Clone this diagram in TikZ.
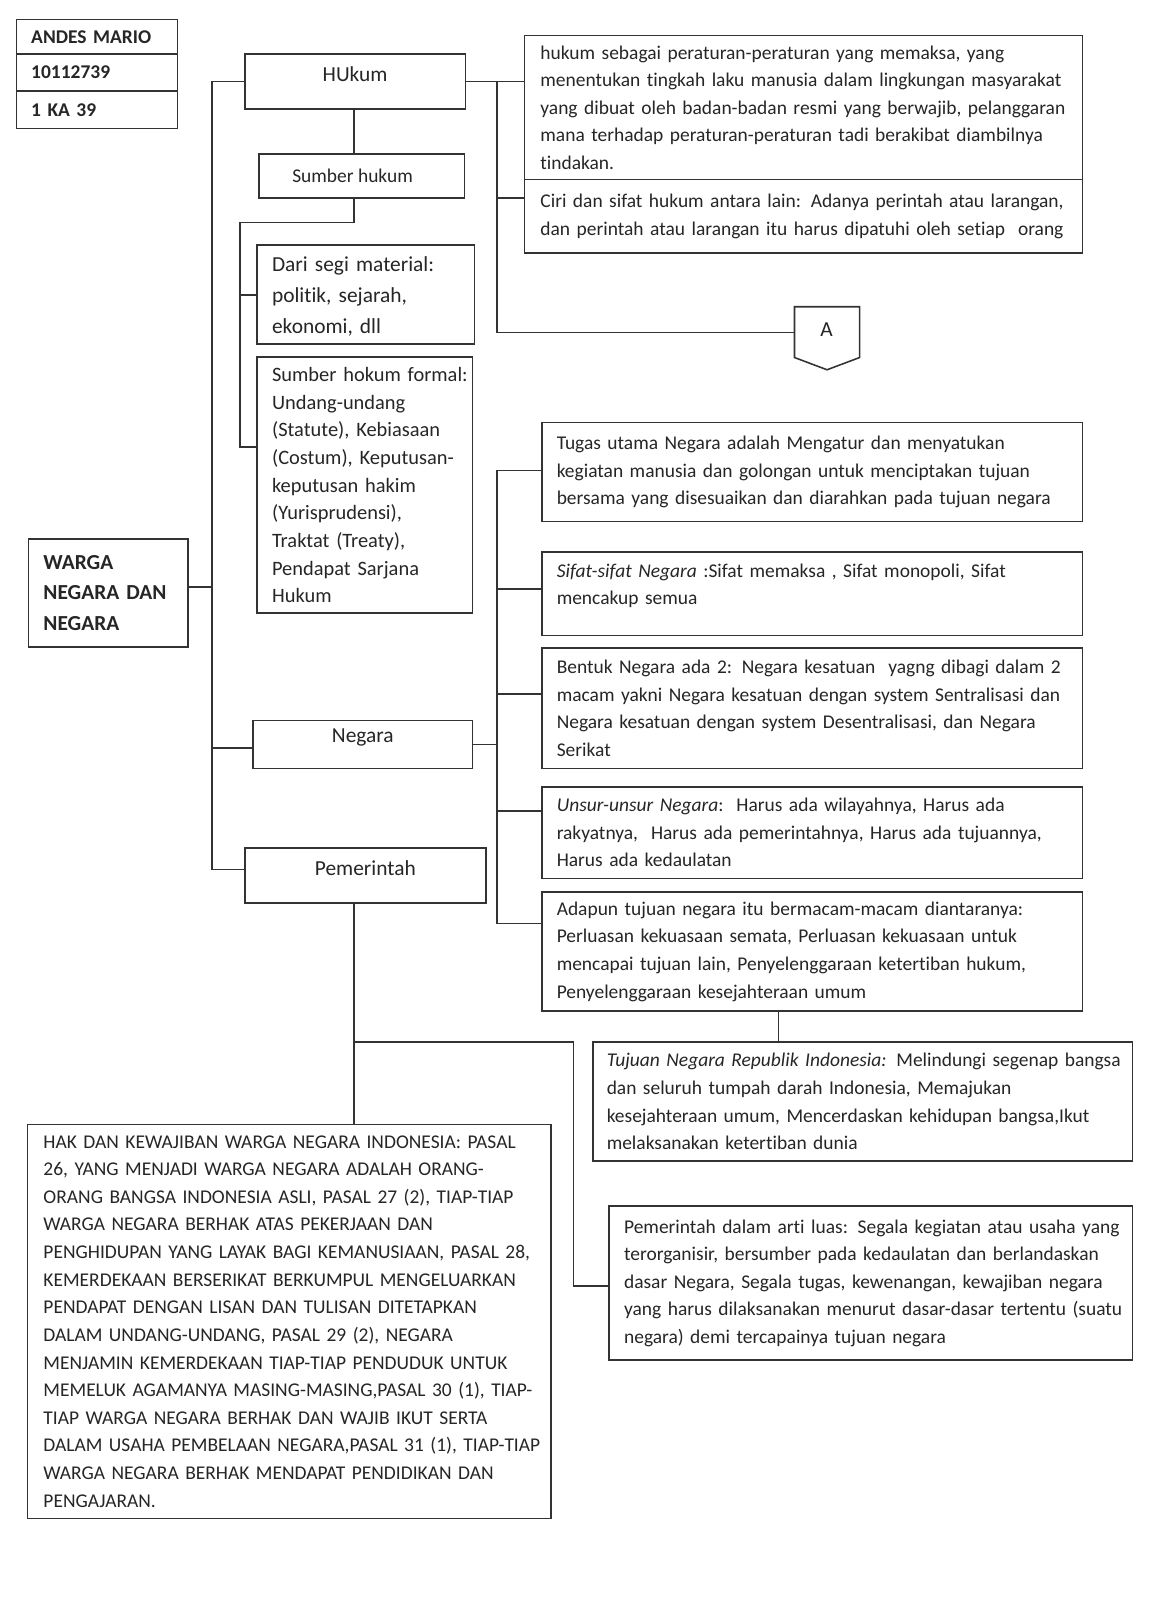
\documentclass[tikz,border=0pt]{standalone}
\usepackage{fontspec}
\setmainfont{Carlito}[Ligatures=NoCommon]
\usetikzlibrary{positioning,fit,calc}

\tikzset{
  kotak/.style={shape=rectangle, draw=black!80, line width=0.8pt, inner sep=0pt},
  isi/.style={anchor=west, align=left, inner sep=0pt, text width=330pt, text=black!85,
    font=\fontsize{10}{14.2}\selectfont},
  judul/.style={text=black!85, font=\fontsize{11}{13}\selectfont},
  garis/.style={draw=black!80, line width=0.8pt},
}

\begin{document}
\begin{tikzpicture}[x=0.5245pt, y=-0.5245pt]
\path[fill=white, use as bounding box] (0,0) rectangle (1135,1568);

% identitas
\node (nm1) [kotak, fit={(16,19) (174,53)}] {};
\node (nm2) [kotak, fit={(16,53) (174,89)}] {};
\node (nm3) [kotak, fit={(16,89) (174,126)}] {};
\node (nm1t) [isi, font=\fontsize{10}{12}\selectfont\bfseries] at ($(nm1.west)+(15,0)$) {ANDES MARIO};
\node (nm2t) [isi, font=\fontsize{10}{12}\selectfont\bfseries] at ($(nm2.west)+(15,0)$) {10112739};
\node (nm3t) [isi, font=\fontsize{10}{12}\selectfont\bfseries] at ($(nm3.west)+(15,0)$) {1 KA 39};

% pusat
\node (wn) [kotak, fit={(28,528) (184,634)}] {};
\node (wnt) [isi, font=\fontsize{11}{15.7}\selectfont\bfseries] at ($(wn.west)+(15,0)$) {WARGA\\NEGARA DAN\\NEGARA};

% cabang hukum
\node (hk) [kotak, judul, fit={(240,53) (456,107)}] {HUkum};
\node (sh) [kotak, fit={(254,151) (455,194)}] {};
\node (sht) [judul, font=\fontsize{10}{12}\selectfont] at ($(sh.center)+(-9,0)$) {Sumber hukum};
\node (ds) [kotak, fit={(252,240) (465,337)}] {};
\node (dst) [isi, font=\fontsize{11}{15.7}\selectfont] at ($(ds.west)+(15,2)$) {Dari segi material:\\politik, sejarah,\\ekonomi, dll};
\node (fm) [kotak, fit={(252,350) (463,601)}] {};
\node (fmt) [isi, font=\fontsize{10.5}{14.2}\selectfont] at ($(fm.west)+(15,0)$) {Sumber hokum formal:\\Undang-undang\\(Statute), Kebiasaan\\(Costum), Keputusan-\\keputusan hakim\\(Yurisprudensi),\\Traktat (Treaty),\\Pendapat Sarjana\\Hukum};

\node (hd) [kotak, fit={(514,35) (1061,176)}] {};
\node (hdt) [isi] at ($(hd.west)+(16,0)$) {hukum sebagai peraturan-peraturan yang memaksa, yang\\menentukan tingkah laku manusia dalam lingkungan masyarakat\\yang dibuat oleh badan-badan resmi yang berwajib, pelanggaran\\mana terhadap peraturan-peraturan tadi berakibat diambilnya\\tindakan.};
\node (cr) [kotak, fit={(514,176) (1061,248)}] {};
\node (crt) [isi] at ($(cr.west)+(16,0)$) {Ciri dan sifat hukum antara lain: Adanya perintah atau larangan,\\dan perintah atau larangan itu harus dipatuhi oleh setiap\ \ orang};

% penghubung A
\node (ofp) [inner sep=0pt, fit={(779,301) (842,362)}] {};
\draw[garis] (ofp.north west) -- (ofp.north east) -- ($(ofp.south east)+(0,-12)$) -- (ofp.south) -- ($(ofp.south west)+(0,-12)$) -- cycle;
\node (ofpt) [judul] at (810,323) {A};

% cabang negara
\node (ng) [kotak, judul, fit={(248,706) (463,753)}] {Negara};
\node (tg) [kotak, fit={(531,414) (1061,511)}] {};
\node (tgt) [isi] at ($(tg.west)+(15,0)$) {Tugas utama Negara adalah Mengatur dan menyatukan\\kegiatan manusia dan golongan untuk menciptakan tujuan\\bersama yang disesuaikan dan diarahkan pada tujuan negara};
\node (sf) [kotak, fit={(531,541) (1061,623)}] {};
\node (sft) [isi] at ($(sf.west)+(15,-8)$) {{\itshape Sifat-sifat Negara} :Sifat memaksa , Sifat monopoli, Sifat\\mencakup semua};
\node (bt) [kotak, fit={(531,635) (1061,753)}] {};
\node (btt) [isi] at ($(bt.west)+(15,0)$) {Bentuk Negara ada 2: Negara kesatuan\ \ yagng dibagi dalam 2\\macam yakni Negara kesatuan dengan system Sentralisasi dan\\Negara kesatuan dengan system Desentralisasi, dan Negara\\Serikat};
\node (us) [kotak, fit={(531,771) (1061,861)}] {};
\node (ust) [isi] at ($(us.west)+(15,0)$) {{\itshape Unsur-unsur Negara}:\ \ Harus ada wilayahnya, Harus ada\\rakyatnya,\ \ Harus ada pemerintahnya, Harus ada tujuannya,\\Harus ada kedaulatan};
\node (ad) [kotak, fit={(531,874) (1061,991)}] {};
\node (adt) [isi] at ($(ad.west)+(15,0)$) {Adapun tujuan negara itu bermacam-macam diantaranya:\\Perluasan kekuasaan semata, Perluasan kekuasaan untuk\\mencapai tujuan lain, Penyelenggaraan ketertiban hukum,\\Penyelenggaraan kesejahteraan umum};
\node (tj) [kotak, fit={(581,1021) (1110,1138)}] {};
\node (tjt) [isi] at ($(tj.west)+(14,0)$) {{\itshape Tujuan Negara Republik Indonesia:} Melindungi segenap bangsa\\dan seluruh tumpah darah Indonesia, Memajukan\\kesejahteraan umum, Mencerdaskan kehidupan bangsa,Ikut\\melaksanakan ketertiban dunia};

% cabang pemerintah
\node (pm) [kotak, judul, fit={(240,831) (476,885)}] {Pemerintah};
\node (pd) [kotak, fit={(597,1182) (1110,1333)}] {};
\node (pdt) [isi] at ($(pd.west)+(15,0)$) {Pemerintah dalam arti luas: Segala kegiatan atau usaha yang\\terorganisir, bersumber pada kedaulatan dan berlandaskan\\dasar Negara, Segala tugas, kewenangan, kewajiban negara\\yang harus dilaksanakan menurut dasar-dasar tertentu (suatu\\negara) demi tercapainya tujuan negara};
\node (hak) [kotak, fit={(27,1102) (540,1488)}] {};
\node (hakt) [isi] at ($(hak.west)+(16,0)$) {HAK DAN KEWAJIBAN WARGA NEGARA INDONESIA: PASAL\\26, YANG MENJADI WARGA NEGARA ADALAH ORANG-\\ORANG BANGSA INDONESIA ASLI, PASAL 27 (2), TIAP-TIAP\\WARGA NEGARA BERHAK ATAS PEKERJAAN DAN\\PENGHIDUPAN YANG LAYAK BAGI KEMANUSIAAN, PASAL 28,\\KEMERDEKAAN BERSERIKAT BERKUMPUL MENGELUARKAN\\PENDAPAT DENGAN LISAN DAN TULISAN DITETAPKAN\\DALAM UNDANG-UNDANG, PASAL 29 (2), NEGARA\\MENJAMIN KEMERDEKAAN TIAP-TIAP PENDUDUK UNTUK\\MEMELUK AGAMANYA MASING-MASING,PASAL 30 (1), TIAP-\\TIAP WARGA NEGARA BERHAK DAN WAJIB IKUT SERTA\\DALAM USAHA PEMBELAAN NEGARA,PASAL 31 (1), TIAP-TIAP\\WARGA NEGARA BERHAK MENDAPAT PENDIDIKAN DAN\\PENGAJARAN.};

% garis batang kiri
\coordinate (t1) at (208,80);
\coordinate (t2) at (208,852);
\coordinate (t3) at (208,575);
\coordinate (t4) at (208,733);
\draw[garis] (hk.west) -- (t1) -- (t2) -- (t2 -| pm.west);
\draw[garis] (t3) -- (t3 -| wn.east);
\draw[garis] (t4) -- (t4 -| ng.west);

% garis sumber hukum
\coordinate (b1) at (347,218);
\coordinate (b2) at (235,218);
\coordinate (b3) at (235,438);
\coordinate (b4) at (235,289);
\draw[garis] (hk.south -| b1) -- (sh.north -| b1);
\draw[garis] (sh.south -| b1) -- (b1) -- (b2) -- (b3) -- (b3 -| fm.west);
\draw[garis] (b4) -- (b4 -| ds.west);

% garis kanan hukum
\coordinate (r1) at (487,80);
\coordinate (r2) at (487,326);
\coordinate (r3) at (487,194);
\draw[garis] (hk.east) -- (hk.east -| hd.west);
\draw[garis] (r1) -- (r2) -- (r2 -| ofp.west);
\draw[garis] (r3) -- (r3 -| cr.west);

% garis negara
\coordinate (n1) at (487,461);
\coordinate (n2) at (487,577);
\coordinate (n3) at (487,680);
\coordinate (n4) at (487,795);
\coordinate (n5) at (487,905);
\draw[garis] (ng.east) -- (ng.east -| n1);
\draw[garis] (n1 -| tg.west) -- (n1) -- (n5) -- (n5 -| ad.west);
\draw[garis] (n2) -- (n2 -| sf.west);
\draw[garis] (n3) -- (n3 -| bt.west);
\draw[garis] (n4) -- (n4 -| us.west);
\coordinate (u1) at (763,1000);
\draw[garis] (ad.south -| u1) -- (tj.north -| u1);

% garis pemerintah
\coordinate (p1) at (347,1021);
\coordinate (p2) at (562,1021);
\coordinate (p3) at (562,1260);
\draw[garis] (pm.south -| p1) -- (hak.north -| p1);
\draw[garis] (p1) -- (p2) -- (p3) -- (p3 -| pd.west);
\end{tikzpicture}
\end{document}
